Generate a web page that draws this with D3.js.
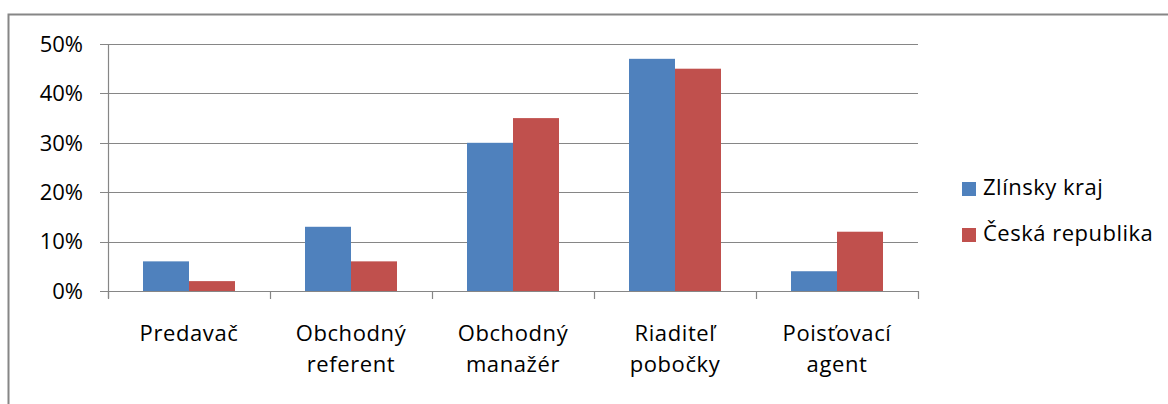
<!DOCTYPE html>
<html>
<head>
<meta charset="utf-8">
<script src="https://cdn.jsdelivr.net/npm/d3@7"></script>
<style>
  body { margin: 0; background: #fff; }
  text { font-family: "Open Sans", Lato, sans-serif; fill: #000; }
</style>
</head>
<body>
<svg id="chart" width="1168" height="404"></svg>
<script>
// data
var categories = [["Predavač"], ["Obchodný", "referent"], ["Obchodný", "manažér"], ["Riaditeľ", "pobočky"], ["Poisťovací", "agent"]];
var seriesNames = ["Zlínsky kraj", "Česká republika"];
var zlinsky = [6, 13, 30, 47, 4];
var ceska = [2, 6, 35, 45, 12];
var yTicks = [0, 10, 20, 30, 40, 50];
var colors = ["#4f81bd", "#c0504d"];

var svg = d3.select("#chart");
var plot = {left: 108, right: 918, top: 44, bottom: 291};
var fs = 22;

// outer frame
svg.append("path")
  .attr("d", "M8.5,404 L8.5,14.5 L1168,14.5")
  .attr("fill", "none")
  .attr("stroke", "#868686")
  .attr("stroke-width", 2);

var x = d3.scaleBand()
  .domain(d3.range(categories.length))
  .range([plot.left, plot.right]);
// two bars per group, ~47px wide, 35px gap each side
var inner = d3.scaleBand()
  .domain([0, 1])
  .range([35, x.bandwidth() - 35]);

var y = d3.scaleLinear().domain([0, 50]).range([plot.bottom, plot.top]);

var g = svg.append("g");

// gridlines
g.selectAll(".grid").data(yTicks).enter().append("line")
  .attr("x1", plot.left - 8).attr("x2", plot.right)
  .attr("y1", function(d) { return Math.round(y(d)) + 0.5; })
  .attr("y2", function(d) { return Math.round(y(d)) + 0.5; })
  .attr("stroke", "#868686").attr("stroke-width", 1.2);

// y axis line
g.append("line")
  .attr("x1", plot.left + 0.5).attr("x2", plot.left + 0.5)
  .attr("y1", plot.top).attr("y2", plot.bottom + 7)
  .attr("stroke", "#868686").attr("stroke-width", 1.2);

// x ticks
g.selectAll(".xtick").data(d3.range(categories.length + 1)).enter().append("line")
  .attr("x1", function(d) { return Math.round(plot.left + d * x.step()) + 0.5; })
  .attr("x2", function(d) { return Math.round(plot.left + d * x.step()) + 0.5; })
  .attr("y1", plot.bottom).attr("y2", plot.bottom + 8)
  .attr("stroke", "#868686").attr("stroke-width", 1.2);

// y labels
g.selectAll(".ylab").data(yTicks).enter().append("text")
  .attr("x", 83).attr("y", function(d) { return y(d); })
  .attr("dy", "0.35em")
  .attr("text-anchor", "end")
  .attr("font-size", fs)
  .text(function(d) { return d + "%"; });

// bars
var series = [zlinsky, ceska];
series.forEach(function(vals, si) {
  g.selectAll(".bar" + si).data(vals).enter().append("rect")
    .attr("x", function(d, i) { return x(i) + inner(si); })
    .attr("width", inner.bandwidth())
    .attr("y", function(d) { return y(d); })
    .attr("height", function(d) { return y(0) - y(d); })
    .attr("fill", colors[si]);
});

// category labels
categories.forEach(function(lines, i) {
  var t = g.append("text")
    .attr("text-anchor", "middle")
    .attr("font-size", fs)
    .attr("letter-spacing", 0.6);
  lines.forEach(function(l, li) {
    t.append("tspan")
      .attr("x", x(i) + x.bandwidth() / 2)
      .attr("y", 341 + li * 31)
      .text(l);
  });
});

// legend
var leg = svg.append("g");
seriesNames.forEach(function(n, i) {
  var ly = 195 + i * 46;
  leg.append("rect")
    .attr("x", 962).attr("y", ly - 13)
    .attr("width", 14).attr("height", 14)
    .attr("fill", colors[i]);
  leg.append("text")
    .attr("x", 983).attr("y", ly)
    .attr("font-size", fs)
    .attr("letter-spacing", 0.5)
    .text(n);
});
</script>
</body>
</html>
